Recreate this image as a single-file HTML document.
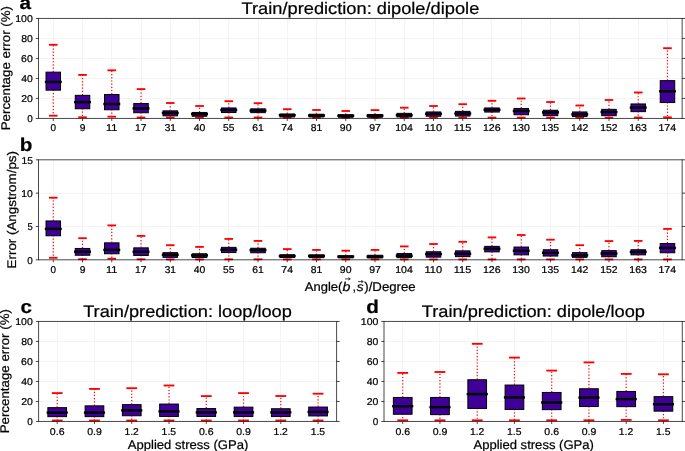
<!DOCTYPE html>
<html><head><meta charset="utf-8"><style>
html,body{margin:0;padding:0;background:#fff;}
body{width:685px;height:451px;overflow:hidden;}
svg{display:block;will-change:transform;}
text{font-family:"Liberation Sans",sans-serif;text-rendering:geometricPrecision;stroke:#000;stroke-width:0.22px;}
</style></head><body>
<svg width="685" height="451" viewBox="0 0 685 451">
<rect x="0" y="0" width="685" height="451" fill="#fff"/>
<rect x="53.00" y="18.95" width="1.00" height="99.00" fill="#f4f4f4"/>
<rect x="82.00" y="18.95" width="1.00" height="99.00" fill="#f4f4f4"/>
<rect x="111.00" y="18.95" width="1.00" height="99.00" fill="#f4f4f4"/>
<rect x="141.00" y="18.95" width="1.00" height="99.00" fill="#f4f4f4"/>
<rect x="170.00" y="18.95" width="1.00" height="99.00" fill="#f4f4f4"/>
<rect x="199.00" y="18.95" width="1.00" height="99.00" fill="#f4f4f4"/>
<rect x="228.00" y="18.95" width="1.00" height="99.00" fill="#f4f4f4"/>
<rect x="258.00" y="18.95" width="1.00" height="99.00" fill="#f4f4f4"/>
<rect x="287.00" y="18.95" width="1.00" height="99.00" fill="#f4f4f4"/>
<rect x="316.00" y="18.95" width="1.00" height="99.00" fill="#f4f4f4"/>
<rect x="345.00" y="18.95" width="1.00" height="99.00" fill="#f4f4f4"/>
<rect x="375.00" y="18.95" width="1.00" height="99.00" fill="#f4f4f4"/>
<rect x="404.00" y="18.95" width="1.00" height="99.00" fill="#f4f4f4"/>
<rect x="433.00" y="18.95" width="1.00" height="99.00" fill="#f4f4f4"/>
<rect x="462.00" y="18.95" width="1.00" height="99.00" fill="#f4f4f4"/>
<rect x="491.00" y="18.95" width="1.00" height="99.00" fill="#f4f4f4"/>
<rect x="521.00" y="18.95" width="1.00" height="99.00" fill="#f4f4f4"/>
<rect x="550.00" y="18.95" width="1.00" height="99.00" fill="#f4f4f4"/>
<rect x="579.00" y="18.95" width="1.00" height="99.00" fill="#f4f4f4"/>
<rect x="608.00" y="18.95" width="1.00" height="99.00" fill="#f4f4f4"/>
<rect x="638.00" y="18.95" width="1.00" height="99.00" fill="#f4f4f4"/>
<rect x="667.00" y="18.95" width="1.00" height="99.00" fill="#f4f4f4"/>
<rect x="39.00" y="98.00" width="642.65" height="1.00" fill="#f4f4f4"/>
<rect x="39.00" y="78.00" width="642.65" height="1.00" fill="#f4f4f4"/>
<rect x="39.00" y="58.00" width="642.65" height="1.00" fill="#f4f4f4"/>
<rect x="39.00" y="38.00" width="642.65" height="1.00" fill="#f4f4f4"/>
<line x1="53.28" y1="89.80" x2="53.28" y2="115.70" stroke="#ff0000" stroke-width="1.2" stroke-dasharray="1.2 1.98"/>
<line x1="53.28" y1="71.90" x2="53.28" y2="44.80" stroke="#ff0000" stroke-width="1.2" stroke-dasharray="1.2 1.98"/>
<line x1="48.98" y1="44.80" x2="57.58" y2="44.80" stroke="#ff0000" stroke-width="1.85"/>
<line x1="48.98" y1="115.70" x2="57.58" y2="115.70" stroke="#ff0000" stroke-width="1.85"/>
<rect x="46.03" y="72.15" width="14.50" height="18.00" fill="#3e0096" stroke="#000" stroke-width="1.0"/>
<line x1="46.03" y1="81.95" x2="60.53" y2="81.95" stroke="#000" stroke-width="2.45" stroke-linecap="square"/>
<line x1="82.52" y1="108.40" x2="82.52" y2="117.30" stroke="#ff0000" stroke-width="1.2" stroke-dasharray="1.2 1.98"/>
<line x1="82.52" y1="95.10" x2="82.52" y2="74.90" stroke="#ff0000" stroke-width="1.2" stroke-dasharray="1.2 1.98"/>
<line x1="78.22" y1="74.90" x2="86.82" y2="74.90" stroke="#ff0000" stroke-width="1.85"/>
<line x1="78.22" y1="117.30" x2="86.82" y2="117.30" stroke="#ff0000" stroke-width="1.85"/>
<rect x="75.27" y="95.35" width="14.50" height="13.40" fill="#3e0096" stroke="#000" stroke-width="1.0"/>
<line x1="75.27" y1="102.10" x2="89.77" y2="102.10" stroke="#000" stroke-width="2.45" stroke-linecap="square"/>
<line x1="111.77" y1="109.40" x2="111.77" y2="116.70" stroke="#ff0000" stroke-width="1.2" stroke-dasharray="1.2 1.98"/>
<line x1="111.77" y1="94.30" x2="111.77" y2="70.30" stroke="#ff0000" stroke-width="1.2" stroke-dasharray="1.2 1.98"/>
<line x1="107.47" y1="70.30" x2="116.07" y2="70.30" stroke="#ff0000" stroke-width="1.85"/>
<line x1="107.47" y1="116.70" x2="116.07" y2="116.70" stroke="#ff0000" stroke-width="1.85"/>
<rect x="104.52" y="94.55" width="14.50" height="15.20" fill="#3e0096" stroke="#000" stroke-width="1.0"/>
<line x1="104.52" y1="104.00" x2="119.02" y2="104.00" stroke="#000" stroke-width="2.45" stroke-linecap="square"/>
<line x1="141.02" y1="112.40" x2="141.02" y2="117.50" stroke="#ff0000" stroke-width="1.2" stroke-dasharray="1.2 1.98"/>
<line x1="141.02" y1="103.30" x2="141.02" y2="89.10" stroke="#ff0000" stroke-width="1.2" stroke-dasharray="1.2 1.98"/>
<line x1="136.72" y1="89.10" x2="145.32" y2="89.10" stroke="#ff0000" stroke-width="1.85"/>
<line x1="136.72" y1="117.50" x2="145.32" y2="117.50" stroke="#ff0000" stroke-width="1.85"/>
<rect x="133.77" y="103.55" width="14.50" height="9.20" fill="#3e0096" stroke="#000" stroke-width="1.0"/>
<line x1="133.77" y1="108.40" x2="148.27" y2="108.40" stroke="#000" stroke-width="2.45" stroke-linecap="square"/>
<line x1="170.27" y1="115.50" x2="170.27" y2="117.60" stroke="#ff0000" stroke-width="1.2" stroke-dasharray="1.2 1.98"/>
<line x1="170.27" y1="110.60" x2="170.27" y2="103.00" stroke="#ff0000" stroke-width="1.2" stroke-dasharray="1.2 1.98"/>
<line x1="165.97" y1="103.00" x2="174.57" y2="103.00" stroke="#ff0000" stroke-width="1.85"/>
<line x1="165.97" y1="117.60" x2="174.57" y2="117.60" stroke="#ff0000" stroke-width="1.85"/>
<rect x="163.02" y="110.85" width="14.50" height="5.00" fill="#3e0096" stroke="#000" stroke-width="1.0"/>
<line x1="163.02" y1="113.00" x2="177.52" y2="113.00" stroke="#000" stroke-width="2.45" stroke-linecap="square"/>
<line x1="199.51" y1="115.90" x2="199.51" y2="117.50" stroke="#ff0000" stroke-width="1.2" stroke-dasharray="1.2 1.98"/>
<line x1="199.51" y1="112.20" x2="199.51" y2="106.00" stroke="#ff0000" stroke-width="1.2" stroke-dasharray="1.2 1.98"/>
<line x1="195.21" y1="106.00" x2="203.81" y2="106.00" stroke="#ff0000" stroke-width="1.85"/>
<line x1="195.21" y1="117.50" x2="203.81" y2="117.50" stroke="#ff0000" stroke-width="1.85"/>
<rect x="192.26" y="112.45" width="14.50" height="3.80" fill="#3e0096" stroke="#000" stroke-width="1.0"/>
<line x1="192.26" y1="114.00" x2="206.76" y2="114.00" stroke="#000" stroke-width="2.45" stroke-linecap="square"/>
<line x1="228.76" y1="112.20" x2="228.76" y2="117.50" stroke="#ff0000" stroke-width="1.2" stroke-dasharray="1.2 1.98"/>
<line x1="228.76" y1="107.70" x2="228.76" y2="101.20" stroke="#ff0000" stroke-width="1.2" stroke-dasharray="1.2 1.98"/>
<line x1="224.46" y1="101.20" x2="233.06" y2="101.20" stroke="#ff0000" stroke-width="1.85"/>
<line x1="224.46" y1="117.50" x2="233.06" y2="117.50" stroke="#ff0000" stroke-width="1.85"/>
<rect x="221.51" y="107.95" width="14.50" height="4.60" fill="#3e0096" stroke="#000" stroke-width="1.0"/>
<line x1="221.51" y1="110.00" x2="236.01" y2="110.00" stroke="#000" stroke-width="2.45" stroke-linecap="square"/>
<line x1="258.01" y1="112.30" x2="258.01" y2="117.50" stroke="#ff0000" stroke-width="1.2" stroke-dasharray="1.2 1.98"/>
<line x1="258.01" y1="108.60" x2="258.01" y2="103.20" stroke="#ff0000" stroke-width="1.2" stroke-dasharray="1.2 1.98"/>
<line x1="253.71" y1="103.20" x2="262.31" y2="103.20" stroke="#ff0000" stroke-width="1.85"/>
<line x1="253.71" y1="117.50" x2="262.31" y2="117.50" stroke="#ff0000" stroke-width="1.85"/>
<rect x="250.76" y="108.85" width="14.50" height="3.80" fill="#3e0096" stroke="#000" stroke-width="1.0"/>
<line x1="250.76" y1="110.60" x2="265.26" y2="110.60" stroke="#000" stroke-width="2.45" stroke-linecap="square"/>
<line x1="287.26" y1="116.60" x2="287.26" y2="117.60" stroke="#ff0000" stroke-width="1.2" stroke-dasharray="1.2 1.98"/>
<line x1="287.26" y1="113.70" x2="287.26" y2="109.20" stroke="#ff0000" stroke-width="1.2" stroke-dasharray="1.2 1.98"/>
<line x1="282.96" y1="109.20" x2="291.56" y2="109.20" stroke="#ff0000" stroke-width="1.85"/>
<line x1="282.96" y1="117.60" x2="291.56" y2="117.60" stroke="#ff0000" stroke-width="1.85"/>
<rect x="280.01" y="113.95" width="14.50" height="3.00" fill="#3e0096" stroke="#000" stroke-width="1.0"/>
<line x1="280.01" y1="115.20" x2="294.51" y2="115.20" stroke="#000" stroke-width="2.45" stroke-linecap="square"/>
<line x1="316.51" y1="116.60" x2="316.51" y2="117.60" stroke="#ff0000" stroke-width="1.2" stroke-dasharray="1.2 1.98"/>
<line x1="316.51" y1="114.00" x2="316.51" y2="110.00" stroke="#ff0000" stroke-width="1.2" stroke-dasharray="1.2 1.98"/>
<line x1="312.21" y1="110.00" x2="320.81" y2="110.00" stroke="#ff0000" stroke-width="1.85"/>
<line x1="312.21" y1="117.60" x2="320.81" y2="117.60" stroke="#ff0000" stroke-width="1.85"/>
<rect x="309.26" y="114.25" width="14.50" height="2.70" fill="#3e0096" stroke="#000" stroke-width="1.0"/>
<line x1="309.26" y1="115.50" x2="323.76" y2="115.50" stroke="#000" stroke-width="2.45" stroke-linecap="square"/>
<line x1="345.75" y1="116.90" x2="345.75" y2="117.60" stroke="#ff0000" stroke-width="1.2" stroke-dasharray="1.2 1.98"/>
<line x1="345.75" y1="114.50" x2="345.75" y2="111.00" stroke="#ff0000" stroke-width="1.2" stroke-dasharray="1.2 1.98"/>
<line x1="341.45" y1="111.00" x2="350.05" y2="111.00" stroke="#ff0000" stroke-width="1.85"/>
<line x1="341.45" y1="117.60" x2="350.05" y2="117.60" stroke="#ff0000" stroke-width="1.85"/>
<rect x="338.50" y="114.75" width="14.50" height="2.50" fill="#3e0096" stroke="#000" stroke-width="1.0"/>
<line x1="338.50" y1="115.70" x2="353.00" y2="115.70" stroke="#000" stroke-width="2.45" stroke-linecap="square"/>
<line x1="375.00" y1="116.90" x2="375.00" y2="117.60" stroke="#ff0000" stroke-width="1.2" stroke-dasharray="1.2 1.98"/>
<line x1="375.00" y1="114.20" x2="375.00" y2="110.10" stroke="#ff0000" stroke-width="1.2" stroke-dasharray="1.2 1.98"/>
<line x1="370.70" y1="110.10" x2="379.30" y2="110.10" stroke="#ff0000" stroke-width="1.85"/>
<line x1="370.70" y1="117.60" x2="379.30" y2="117.60" stroke="#ff0000" stroke-width="1.85"/>
<rect x="367.75" y="114.45" width="14.50" height="2.80" fill="#3e0096" stroke="#000" stroke-width="1.0"/>
<line x1="367.75" y1="115.70" x2="382.25" y2="115.70" stroke="#000" stroke-width="2.45" stroke-linecap="square"/>
<line x1="404.25" y1="116.60" x2="404.25" y2="117.60" stroke="#ff0000" stroke-width="1.2" stroke-dasharray="1.2 1.98"/>
<line x1="404.25" y1="113.10" x2="404.25" y2="107.70" stroke="#ff0000" stroke-width="1.2" stroke-dasharray="1.2 1.98"/>
<line x1="399.95" y1="107.70" x2="408.55" y2="107.70" stroke="#ff0000" stroke-width="1.85"/>
<line x1="399.95" y1="117.60" x2="408.55" y2="117.60" stroke="#ff0000" stroke-width="1.85"/>
<rect x="397.00" y="113.35" width="14.50" height="3.60" fill="#3e0096" stroke="#000" stroke-width="1.0"/>
<line x1="397.00" y1="115.20" x2="411.50" y2="115.20" stroke="#000" stroke-width="2.45" stroke-linecap="square"/>
<line x1="433.50" y1="115.90" x2="433.50" y2="117.60" stroke="#ff0000" stroke-width="1.2" stroke-dasharray="1.2 1.98"/>
<line x1="433.50" y1="111.70" x2="433.50" y2="106.00" stroke="#ff0000" stroke-width="1.2" stroke-dasharray="1.2 1.98"/>
<line x1="429.20" y1="106.00" x2="437.80" y2="106.00" stroke="#ff0000" stroke-width="1.85"/>
<line x1="429.20" y1="117.60" x2="437.80" y2="117.60" stroke="#ff0000" stroke-width="1.85"/>
<rect x="426.25" y="111.95" width="14.50" height="4.30" fill="#3e0096" stroke="#000" stroke-width="1.0"/>
<line x1="426.25" y1="113.80" x2="440.75" y2="113.80" stroke="#000" stroke-width="2.45" stroke-linecap="square"/>
<line x1="462.74" y1="115.70" x2="462.74" y2="117.60" stroke="#ff0000" stroke-width="1.2" stroke-dasharray="1.2 1.98"/>
<line x1="462.74" y1="111.10" x2="462.74" y2="104.20" stroke="#ff0000" stroke-width="1.2" stroke-dasharray="1.2 1.98"/>
<line x1="458.44" y1="104.20" x2="467.04" y2="104.20" stroke="#ff0000" stroke-width="1.85"/>
<line x1="458.44" y1="117.60" x2="467.04" y2="117.60" stroke="#ff0000" stroke-width="1.85"/>
<rect x="455.49" y="111.35" width="14.50" height="4.70" fill="#3e0096" stroke="#000" stroke-width="1.0"/>
<line x1="455.49" y1="113.50" x2="469.99" y2="113.50" stroke="#000" stroke-width="2.45" stroke-linecap="square"/>
<line x1="491.99" y1="111.70" x2="491.99" y2="117.60" stroke="#ff0000" stroke-width="1.2" stroke-dasharray="1.2 1.98"/>
<line x1="491.99" y1="107.70" x2="491.99" y2="100.80" stroke="#ff0000" stroke-width="1.2" stroke-dasharray="1.2 1.98"/>
<line x1="487.69" y1="100.80" x2="496.29" y2="100.80" stroke="#ff0000" stroke-width="1.85"/>
<line x1="487.69" y1="117.60" x2="496.29" y2="117.60" stroke="#ff0000" stroke-width="1.85"/>
<rect x="484.74" y="107.95" width="14.50" height="4.10" fill="#3e0096" stroke="#000" stroke-width="1.0"/>
<line x1="484.74" y1="109.80" x2="499.24" y2="109.80" stroke="#000" stroke-width="2.45" stroke-linecap="square"/>
<line x1="521.24" y1="114.40" x2="521.24" y2="117.60" stroke="#ff0000" stroke-width="1.2" stroke-dasharray="1.2 1.98"/>
<line x1="521.24" y1="108.20" x2="521.24" y2="98.50" stroke="#ff0000" stroke-width="1.2" stroke-dasharray="1.2 1.98"/>
<line x1="516.94" y1="98.50" x2="525.54" y2="98.50" stroke="#ff0000" stroke-width="1.85"/>
<line x1="516.94" y1="117.60" x2="525.54" y2="117.60" stroke="#ff0000" stroke-width="1.85"/>
<rect x="513.99" y="108.45" width="14.50" height="6.30" fill="#3e0096" stroke="#000" stroke-width="1.0"/>
<line x1="513.99" y1="111.00" x2="528.49" y2="111.00" stroke="#000" stroke-width="2.45" stroke-linecap="square"/>
<line x1="550.49" y1="115.30" x2="550.49" y2="117.60" stroke="#ff0000" stroke-width="1.2" stroke-dasharray="1.2 1.98"/>
<line x1="550.49" y1="110.00" x2="550.49" y2="102.00" stroke="#ff0000" stroke-width="1.2" stroke-dasharray="1.2 1.98"/>
<line x1="546.19" y1="102.00" x2="554.79" y2="102.00" stroke="#ff0000" stroke-width="1.85"/>
<line x1="546.19" y1="117.60" x2="554.79" y2="117.60" stroke="#ff0000" stroke-width="1.85"/>
<rect x="543.24" y="110.25" width="14.50" height="5.40" fill="#3e0096" stroke="#000" stroke-width="1.0"/>
<line x1="543.24" y1="112.40" x2="557.74" y2="112.40" stroke="#000" stroke-width="2.45" stroke-linecap="square"/>
<line x1="579.74" y1="116.20" x2="579.74" y2="117.60" stroke="#ff0000" stroke-width="1.2" stroke-dasharray="1.2 1.98"/>
<line x1="579.74" y1="111.70" x2="579.74" y2="105.50" stroke="#ff0000" stroke-width="1.2" stroke-dasharray="1.2 1.98"/>
<line x1="575.44" y1="105.50" x2="584.04" y2="105.50" stroke="#ff0000" stroke-width="1.85"/>
<line x1="575.44" y1="117.60" x2="584.04" y2="117.60" stroke="#ff0000" stroke-width="1.85"/>
<rect x="572.49" y="111.95" width="14.50" height="4.60" fill="#3e0096" stroke="#000" stroke-width="1.0"/>
<line x1="572.49" y1="114.40" x2="586.99" y2="114.40" stroke="#000" stroke-width="2.45" stroke-linecap="square"/>
<line x1="608.98" y1="115.30" x2="608.98" y2="117.60" stroke="#ff0000" stroke-width="1.2" stroke-dasharray="1.2 1.98"/>
<line x1="608.98" y1="109.10" x2="608.98" y2="100.00" stroke="#ff0000" stroke-width="1.2" stroke-dasharray="1.2 1.98"/>
<line x1="604.68" y1="100.00" x2="613.28" y2="100.00" stroke="#ff0000" stroke-width="1.85"/>
<line x1="604.68" y1="117.60" x2="613.28" y2="117.60" stroke="#ff0000" stroke-width="1.85"/>
<rect x="601.73" y="109.35" width="14.50" height="6.30" fill="#3e0096" stroke="#000" stroke-width="1.0"/>
<line x1="601.73" y1="112.00" x2="616.23" y2="112.00" stroke="#000" stroke-width="2.45" stroke-linecap="square"/>
<line x1="638.23" y1="111.30" x2="638.23" y2="117.50" stroke="#ff0000" stroke-width="1.2" stroke-dasharray="1.2 1.98"/>
<line x1="638.23" y1="103.70" x2="638.23" y2="92.50" stroke="#ff0000" stroke-width="1.2" stroke-dasharray="1.2 1.98"/>
<line x1="633.93" y1="92.50" x2="642.53" y2="92.50" stroke="#ff0000" stroke-width="1.85"/>
<line x1="633.93" y1="117.50" x2="642.53" y2="117.50" stroke="#ff0000" stroke-width="1.85"/>
<rect x="630.98" y="103.95" width="14.50" height="7.70" fill="#3e0096" stroke="#000" stroke-width="1.0"/>
<line x1="630.98" y1="107.60" x2="645.48" y2="107.60" stroke="#000" stroke-width="2.45" stroke-linecap="square"/>
<line x1="667.48" y1="102.20" x2="667.48" y2="117.30" stroke="#ff0000" stroke-width="1.2" stroke-dasharray="1.2 1.98"/>
<line x1="667.48" y1="80.40" x2="667.48" y2="48.20" stroke="#ff0000" stroke-width="1.2" stroke-dasharray="1.2 1.98"/>
<line x1="663.18" y1="48.20" x2="671.78" y2="48.20" stroke="#ff0000" stroke-width="1.85"/>
<line x1="663.18" y1="117.30" x2="671.78" y2="117.30" stroke="#ff0000" stroke-width="1.85"/>
<rect x="660.23" y="80.65" width="14.50" height="21.90" fill="#3e0096" stroke="#000" stroke-width="1.0"/>
<line x1="660.23" y1="91.30" x2="674.73" y2="91.30" stroke="#000" stroke-width="2.45" stroke-linecap="square"/>
<line x1="38.50" y1="18.45" x2="682.15" y2="18.45" stroke="#000" stroke-width="0.72"/>
<line x1="38.50" y1="118.45" x2="682.15" y2="118.45" stroke="#000" stroke-width="0.72"/>
<line x1="38.50" y1="18.09" x2="38.50" y2="118.81" stroke="#000" stroke-width="0.72"/>
<line x1="682.15" y1="18.09" x2="682.15" y2="118.81" stroke="#000" stroke-width="0.72"/>
<line x1="35.80" y1="118.45" x2="38.50" y2="118.45" stroke="#000" stroke-width="0.72"/>
<line x1="682.15" y1="118.45" x2="685.25" y2="118.45" stroke="#000" stroke-width="0.72"/>
<line x1="35.80" y1="98.45" x2="38.50" y2="98.45" stroke="#000" stroke-width="0.72"/>
<line x1="682.15" y1="98.45" x2="685.25" y2="98.45" stroke="#000" stroke-width="0.72"/>
<line x1="35.80" y1="78.45" x2="38.50" y2="78.45" stroke="#000" stroke-width="0.72"/>
<line x1="682.15" y1="78.45" x2="685.25" y2="78.45" stroke="#000" stroke-width="0.72"/>
<line x1="35.80" y1="58.45" x2="38.50" y2="58.45" stroke="#000" stroke-width="0.72"/>
<line x1="682.15" y1="58.45" x2="685.25" y2="58.45" stroke="#000" stroke-width="0.72"/>
<line x1="35.80" y1="38.45" x2="38.50" y2="38.45" stroke="#000" stroke-width="0.72"/>
<line x1="682.15" y1="38.45" x2="685.25" y2="38.45" stroke="#000" stroke-width="0.72"/>
<line x1="35.80" y1="18.45" x2="38.50" y2="18.45" stroke="#000" stroke-width="0.72"/>
<line x1="682.15" y1="18.45" x2="685.25" y2="18.45" stroke="#000" stroke-width="0.72"/>
<line x1="53.28" y1="118.45" x2="53.28" y2="120.95" stroke="#000" stroke-width="0.72"/>
<line x1="82.52" y1="118.45" x2="82.52" y2="120.95" stroke="#000" stroke-width="0.72"/>
<line x1="111.77" y1="118.45" x2="111.77" y2="120.95" stroke="#000" stroke-width="0.72"/>
<line x1="141.02" y1="118.45" x2="141.02" y2="120.95" stroke="#000" stroke-width="0.72"/>
<line x1="170.27" y1="118.45" x2="170.27" y2="120.95" stroke="#000" stroke-width="0.72"/>
<line x1="199.51" y1="118.45" x2="199.51" y2="120.95" stroke="#000" stroke-width="0.72"/>
<line x1="228.76" y1="118.45" x2="228.76" y2="120.95" stroke="#000" stroke-width="0.72"/>
<line x1="258.01" y1="118.45" x2="258.01" y2="120.95" stroke="#000" stroke-width="0.72"/>
<line x1="287.26" y1="118.45" x2="287.26" y2="120.95" stroke="#000" stroke-width="0.72"/>
<line x1="316.51" y1="118.45" x2="316.51" y2="120.95" stroke="#000" stroke-width="0.72"/>
<line x1="345.75" y1="118.45" x2="345.75" y2="120.95" stroke="#000" stroke-width="0.72"/>
<line x1="375.00" y1="118.45" x2="375.00" y2="120.95" stroke="#000" stroke-width="0.72"/>
<line x1="404.25" y1="118.45" x2="404.25" y2="120.95" stroke="#000" stroke-width="0.72"/>
<line x1="433.50" y1="118.45" x2="433.50" y2="120.95" stroke="#000" stroke-width="0.72"/>
<line x1="462.74" y1="118.45" x2="462.74" y2="120.95" stroke="#000" stroke-width="0.72"/>
<line x1="491.99" y1="118.45" x2="491.99" y2="120.95" stroke="#000" stroke-width="0.72"/>
<line x1="521.24" y1="118.45" x2="521.24" y2="120.95" stroke="#000" stroke-width="0.72"/>
<line x1="550.49" y1="118.45" x2="550.49" y2="120.95" stroke="#000" stroke-width="0.72"/>
<line x1="579.74" y1="118.45" x2="579.74" y2="120.95" stroke="#000" stroke-width="0.72"/>
<line x1="608.98" y1="118.45" x2="608.98" y2="120.95" stroke="#000" stroke-width="0.72"/>
<line x1="638.23" y1="118.45" x2="638.23" y2="120.95" stroke="#000" stroke-width="0.72"/>
<line x1="667.48" y1="118.45" x2="667.48" y2="120.95" stroke="#000" stroke-width="0.72"/>
<rect x="53.00" y="160.30" width="1.00" height="99.00" fill="#f4f4f4"/>
<rect x="82.00" y="160.30" width="1.00" height="99.00" fill="#f4f4f4"/>
<rect x="111.00" y="160.30" width="1.00" height="99.00" fill="#f4f4f4"/>
<rect x="141.00" y="160.30" width="1.00" height="99.00" fill="#f4f4f4"/>
<rect x="170.00" y="160.30" width="1.00" height="99.00" fill="#f4f4f4"/>
<rect x="199.00" y="160.30" width="1.00" height="99.00" fill="#f4f4f4"/>
<rect x="228.00" y="160.30" width="1.00" height="99.00" fill="#f4f4f4"/>
<rect x="258.00" y="160.30" width="1.00" height="99.00" fill="#f4f4f4"/>
<rect x="287.00" y="160.30" width="1.00" height="99.00" fill="#f4f4f4"/>
<rect x="316.00" y="160.30" width="1.00" height="99.00" fill="#f4f4f4"/>
<rect x="345.00" y="160.30" width="1.00" height="99.00" fill="#f4f4f4"/>
<rect x="375.00" y="160.30" width="1.00" height="99.00" fill="#f4f4f4"/>
<rect x="404.00" y="160.30" width="1.00" height="99.00" fill="#f4f4f4"/>
<rect x="433.00" y="160.30" width="1.00" height="99.00" fill="#f4f4f4"/>
<rect x="462.00" y="160.30" width="1.00" height="99.00" fill="#f4f4f4"/>
<rect x="491.00" y="160.30" width="1.00" height="99.00" fill="#f4f4f4"/>
<rect x="521.00" y="160.30" width="1.00" height="99.00" fill="#f4f4f4"/>
<rect x="550.00" y="160.30" width="1.00" height="99.00" fill="#f4f4f4"/>
<rect x="579.00" y="160.30" width="1.00" height="99.00" fill="#f4f4f4"/>
<rect x="608.00" y="160.30" width="1.00" height="99.00" fill="#f4f4f4"/>
<rect x="638.00" y="160.30" width="1.00" height="99.00" fill="#f4f4f4"/>
<rect x="667.00" y="160.30" width="1.00" height="99.00" fill="#f4f4f4"/>
<rect x="39.00" y="226.00" width="642.65" height="1.00" fill="#f4f4f4"/>
<rect x="39.00" y="193.00" width="642.65" height="1.00" fill="#f4f4f4"/>
<line x1="53.28" y1="235.40" x2="53.28" y2="257.80" stroke="#ff0000" stroke-width="1.2" stroke-dasharray="1.2 1.98"/>
<line x1="53.28" y1="220.70" x2="53.28" y2="197.70" stroke="#ff0000" stroke-width="1.2" stroke-dasharray="1.2 1.98"/>
<line x1="48.98" y1="197.70" x2="57.58" y2="197.70" stroke="#ff0000" stroke-width="1.85"/>
<line x1="48.98" y1="257.80" x2="57.58" y2="257.80" stroke="#ff0000" stroke-width="1.85"/>
<rect x="46.03" y="220.95" width="14.50" height="14.80" fill="#3e0096" stroke="#000" stroke-width="1.0"/>
<line x1="46.03" y1="228.90" x2="60.53" y2="228.90" stroke="#000" stroke-width="2.45" stroke-linecap="square"/>
<line x1="82.52" y1="254.90" x2="82.52" y2="259.20" stroke="#ff0000" stroke-width="1.2" stroke-dasharray="1.2 1.98"/>
<line x1="82.52" y1="248.20" x2="82.52" y2="238.20" stroke="#ff0000" stroke-width="1.2" stroke-dasharray="1.2 1.98"/>
<line x1="78.22" y1="238.20" x2="86.82" y2="238.20" stroke="#ff0000" stroke-width="1.85"/>
<line x1="78.22" y1="259.20" x2="86.82" y2="259.20" stroke="#ff0000" stroke-width="1.85"/>
<rect x="75.27" y="248.45" width="14.50" height="6.80" fill="#3e0096" stroke="#000" stroke-width="1.0"/>
<line x1="75.27" y1="251.70" x2="89.77" y2="251.70" stroke="#000" stroke-width="2.45" stroke-linecap="square"/>
<line x1="111.77" y1="253.40" x2="111.77" y2="258.70" stroke="#ff0000" stroke-width="1.2" stroke-dasharray="1.2 1.98"/>
<line x1="111.77" y1="242.60" x2="111.77" y2="225.40" stroke="#ff0000" stroke-width="1.2" stroke-dasharray="1.2 1.98"/>
<line x1="107.47" y1="225.40" x2="116.07" y2="225.40" stroke="#ff0000" stroke-width="1.85"/>
<line x1="107.47" y1="258.70" x2="116.07" y2="258.70" stroke="#ff0000" stroke-width="1.85"/>
<rect x="104.52" y="242.85" width="14.50" height="10.90" fill="#3e0096" stroke="#000" stroke-width="1.0"/>
<line x1="104.52" y1="249.90" x2="119.02" y2="249.90" stroke="#000" stroke-width="2.45" stroke-linecap="square"/>
<line x1="141.02" y1="255.10" x2="141.02" y2="259.30" stroke="#ff0000" stroke-width="1.2" stroke-dasharray="1.2 1.98"/>
<line x1="141.02" y1="247.60" x2="141.02" y2="235.90" stroke="#ff0000" stroke-width="1.2" stroke-dasharray="1.2 1.98"/>
<line x1="136.72" y1="235.90" x2="145.32" y2="235.90" stroke="#ff0000" stroke-width="1.85"/>
<line x1="136.72" y1="259.30" x2="145.32" y2="259.30" stroke="#ff0000" stroke-width="1.85"/>
<rect x="133.77" y="247.85" width="14.50" height="7.60" fill="#3e0096" stroke="#000" stroke-width="1.0"/>
<line x1="133.77" y1="251.80" x2="148.27" y2="251.80" stroke="#000" stroke-width="2.45" stroke-linecap="square"/>
<line x1="170.27" y1="257.00" x2="170.27" y2="259.40" stroke="#ff0000" stroke-width="1.2" stroke-dasharray="1.2 1.98"/>
<line x1="170.27" y1="252.40" x2="170.27" y2="245.20" stroke="#ff0000" stroke-width="1.2" stroke-dasharray="1.2 1.98"/>
<line x1="165.97" y1="245.20" x2="174.57" y2="245.20" stroke="#ff0000" stroke-width="1.85"/>
<line x1="165.97" y1="259.40" x2="174.57" y2="259.40" stroke="#ff0000" stroke-width="1.85"/>
<rect x="163.02" y="252.65" width="14.50" height="4.70" fill="#3e0096" stroke="#000" stroke-width="1.0"/>
<line x1="163.02" y1="254.80" x2="177.52" y2="254.80" stroke="#000" stroke-width="2.45" stroke-linecap="square"/>
<line x1="199.51" y1="257.20" x2="199.51" y2="259.40" stroke="#ff0000" stroke-width="1.2" stroke-dasharray="1.2 1.98"/>
<line x1="199.51" y1="253.50" x2="199.51" y2="246.90" stroke="#ff0000" stroke-width="1.2" stroke-dasharray="1.2 1.98"/>
<line x1="195.21" y1="246.90" x2="203.81" y2="246.90" stroke="#ff0000" stroke-width="1.85"/>
<line x1="195.21" y1="259.40" x2="203.81" y2="259.40" stroke="#ff0000" stroke-width="1.85"/>
<rect x="192.26" y="253.75" width="14.50" height="3.80" fill="#3e0096" stroke="#000" stroke-width="1.0"/>
<line x1="192.26" y1="255.40" x2="206.76" y2="255.40" stroke="#000" stroke-width="2.45" stroke-linecap="square"/>
<line x1="228.76" y1="252.20" x2="228.76" y2="259.30" stroke="#ff0000" stroke-width="1.2" stroke-dasharray="1.2 1.98"/>
<line x1="228.76" y1="247.10" x2="228.76" y2="238.90" stroke="#ff0000" stroke-width="1.2" stroke-dasharray="1.2 1.98"/>
<line x1="224.46" y1="238.90" x2="233.06" y2="238.90" stroke="#ff0000" stroke-width="1.85"/>
<line x1="224.46" y1="259.30" x2="233.06" y2="259.30" stroke="#ff0000" stroke-width="1.85"/>
<rect x="221.51" y="247.35" width="14.50" height="5.20" fill="#3e0096" stroke="#000" stroke-width="1.0"/>
<line x1="221.51" y1="249.80" x2="236.01" y2="249.80" stroke="#000" stroke-width="2.45" stroke-linecap="square"/>
<line x1="258.01" y1="252.40" x2="258.01" y2="259.30" stroke="#ff0000" stroke-width="1.2" stroke-dasharray="1.2 1.98"/>
<line x1="258.01" y1="248.00" x2="258.01" y2="240.90" stroke="#ff0000" stroke-width="1.2" stroke-dasharray="1.2 1.98"/>
<line x1="253.71" y1="240.90" x2="262.31" y2="240.90" stroke="#ff0000" stroke-width="1.85"/>
<line x1="253.71" y1="259.30" x2="262.31" y2="259.30" stroke="#ff0000" stroke-width="1.85"/>
<rect x="250.76" y="248.25" width="14.50" height="4.50" fill="#3e0096" stroke="#000" stroke-width="1.0"/>
<line x1="250.76" y1="250.10" x2="265.26" y2="250.10" stroke="#000" stroke-width="2.45" stroke-linecap="square"/>
<line x1="287.26" y1="257.20" x2="287.26" y2="259.40" stroke="#ff0000" stroke-width="1.2" stroke-dasharray="1.2 1.98"/>
<line x1="287.26" y1="254.50" x2="287.26" y2="249.10" stroke="#ff0000" stroke-width="1.2" stroke-dasharray="1.2 1.98"/>
<line x1="282.96" y1="249.10" x2="291.56" y2="249.10" stroke="#ff0000" stroke-width="1.85"/>
<line x1="282.96" y1="259.40" x2="291.56" y2="259.40" stroke="#ff0000" stroke-width="1.85"/>
<rect x="280.01" y="254.75" width="14.50" height="2.80" fill="#3e0096" stroke="#000" stroke-width="1.0"/>
<line x1="280.01" y1="256.00" x2="294.51" y2="256.00" stroke="#000" stroke-width="2.45" stroke-linecap="square"/>
<line x1="316.51" y1="257.30" x2="316.51" y2="259.40" stroke="#ff0000" stroke-width="1.2" stroke-dasharray="1.2 1.98"/>
<line x1="316.51" y1="254.60" x2="316.51" y2="249.90" stroke="#ff0000" stroke-width="1.2" stroke-dasharray="1.2 1.98"/>
<line x1="312.21" y1="249.90" x2="320.81" y2="249.90" stroke="#ff0000" stroke-width="1.85"/>
<line x1="312.21" y1="259.40" x2="320.81" y2="259.40" stroke="#ff0000" stroke-width="1.85"/>
<rect x="309.26" y="254.85" width="14.50" height="2.80" fill="#3e0096" stroke="#000" stroke-width="1.0"/>
<line x1="309.26" y1="256.00" x2="323.76" y2="256.00" stroke="#000" stroke-width="2.45" stroke-linecap="square"/>
<line x1="345.75" y1="257.50" x2="345.75" y2="259.40" stroke="#ff0000" stroke-width="1.2" stroke-dasharray="1.2 1.98"/>
<line x1="345.75" y1="255.50" x2="345.75" y2="250.70" stroke="#ff0000" stroke-width="1.2" stroke-dasharray="1.2 1.98"/>
<line x1="341.45" y1="250.70" x2="350.05" y2="250.70" stroke="#ff0000" stroke-width="1.85"/>
<line x1="341.45" y1="259.40" x2="350.05" y2="259.40" stroke="#ff0000" stroke-width="1.85"/>
<rect x="338.50" y="255.75" width="14.50" height="2.10" fill="#3e0096" stroke="#000" stroke-width="1.0"/>
<line x1="338.50" y1="256.60" x2="353.00" y2="256.60" stroke="#000" stroke-width="2.45" stroke-linecap="square"/>
<line x1="375.00" y1="257.60" x2="375.00" y2="259.40" stroke="#ff0000" stroke-width="1.2" stroke-dasharray="1.2 1.98"/>
<line x1="375.00" y1="255.00" x2="375.00" y2="249.90" stroke="#ff0000" stroke-width="1.2" stroke-dasharray="1.2 1.98"/>
<line x1="370.70" y1="249.90" x2="379.30" y2="249.90" stroke="#ff0000" stroke-width="1.85"/>
<line x1="370.70" y1="259.40" x2="379.30" y2="259.40" stroke="#ff0000" stroke-width="1.85"/>
<rect x="367.75" y="255.25" width="14.50" height="2.70" fill="#3e0096" stroke="#000" stroke-width="1.0"/>
<line x1="367.75" y1="256.60" x2="382.25" y2="256.60" stroke="#000" stroke-width="2.45" stroke-linecap="square"/>
<line x1="404.25" y1="257.30" x2="404.25" y2="259.40" stroke="#ff0000" stroke-width="1.2" stroke-dasharray="1.2 1.98"/>
<line x1="404.25" y1="253.30" x2="404.25" y2="246.40" stroke="#ff0000" stroke-width="1.2" stroke-dasharray="1.2 1.98"/>
<line x1="399.95" y1="246.40" x2="408.55" y2="246.40" stroke="#ff0000" stroke-width="1.85"/>
<line x1="399.95" y1="259.40" x2="408.55" y2="259.40" stroke="#ff0000" stroke-width="1.85"/>
<rect x="397.00" y="253.55" width="14.50" height="4.10" fill="#3e0096" stroke="#000" stroke-width="1.0"/>
<line x1="397.00" y1="255.70" x2="411.50" y2="255.70" stroke="#000" stroke-width="2.45" stroke-linecap="square"/>
<line x1="433.50" y1="256.80" x2="433.50" y2="259.40" stroke="#ff0000" stroke-width="1.2" stroke-dasharray="1.2 1.98"/>
<line x1="433.50" y1="251.50" x2="433.50" y2="244.00" stroke="#ff0000" stroke-width="1.2" stroke-dasharray="1.2 1.98"/>
<line x1="429.20" y1="244.00" x2="437.80" y2="244.00" stroke="#ff0000" stroke-width="1.85"/>
<line x1="429.20" y1="259.40" x2="437.80" y2="259.40" stroke="#ff0000" stroke-width="1.85"/>
<rect x="426.25" y="251.75" width="14.50" height="5.40" fill="#3e0096" stroke="#000" stroke-width="1.0"/>
<line x1="426.25" y1="254.10" x2="440.75" y2="254.10" stroke="#000" stroke-width="2.45" stroke-linecap="square"/>
<line x1="462.74" y1="256.30" x2="462.74" y2="259.40" stroke="#ff0000" stroke-width="1.2" stroke-dasharray="1.2 1.98"/>
<line x1="462.74" y1="250.60" x2="462.74" y2="241.80" stroke="#ff0000" stroke-width="1.2" stroke-dasharray="1.2 1.98"/>
<line x1="458.44" y1="241.80" x2="467.04" y2="241.80" stroke="#ff0000" stroke-width="1.85"/>
<line x1="458.44" y1="259.40" x2="467.04" y2="259.40" stroke="#ff0000" stroke-width="1.85"/>
<rect x="455.49" y="250.85" width="14.50" height="5.80" fill="#3e0096" stroke="#000" stroke-width="1.0"/>
<line x1="455.49" y1="253.70" x2="469.99" y2="253.70" stroke="#000" stroke-width="2.45" stroke-linecap="square"/>
<line x1="491.99" y1="251.50" x2="491.99" y2="259.40" stroke="#ff0000" stroke-width="1.2" stroke-dasharray="1.2 1.98"/>
<line x1="491.99" y1="246.10" x2="491.99" y2="237.40" stroke="#ff0000" stroke-width="1.2" stroke-dasharray="1.2 1.98"/>
<line x1="487.69" y1="237.40" x2="496.29" y2="237.40" stroke="#ff0000" stroke-width="1.85"/>
<line x1="487.69" y1="259.40" x2="496.29" y2="259.40" stroke="#ff0000" stroke-width="1.85"/>
<rect x="484.74" y="246.35" width="14.50" height="5.50" fill="#3e0096" stroke="#000" stroke-width="1.0"/>
<line x1="484.74" y1="248.80" x2="499.24" y2="248.80" stroke="#000" stroke-width="2.45" stroke-linecap="square"/>
<line x1="521.24" y1="254.50" x2="521.24" y2="259.40" stroke="#ff0000" stroke-width="1.2" stroke-dasharray="1.2 1.98"/>
<line x1="521.24" y1="246.80" x2="521.24" y2="235.00" stroke="#ff0000" stroke-width="1.2" stroke-dasharray="1.2 1.98"/>
<line x1="516.94" y1="235.00" x2="525.54" y2="235.00" stroke="#ff0000" stroke-width="1.85"/>
<line x1="516.94" y1="259.40" x2="525.54" y2="259.40" stroke="#ff0000" stroke-width="1.85"/>
<rect x="513.99" y="247.05" width="14.50" height="7.80" fill="#3e0096" stroke="#000" stroke-width="1.0"/>
<line x1="513.99" y1="250.80" x2="528.49" y2="250.80" stroke="#000" stroke-width="2.45" stroke-linecap="square"/>
<line x1="550.49" y1="255.70" x2="550.49" y2="259.40" stroke="#ff0000" stroke-width="1.2" stroke-dasharray="1.2 1.98"/>
<line x1="550.49" y1="249.50" x2="550.49" y2="239.70" stroke="#ff0000" stroke-width="1.2" stroke-dasharray="1.2 1.98"/>
<line x1="546.19" y1="239.70" x2="554.79" y2="239.70" stroke="#ff0000" stroke-width="1.85"/>
<line x1="546.19" y1="259.40" x2="554.79" y2="259.40" stroke="#ff0000" stroke-width="1.85"/>
<rect x="543.24" y="249.75" width="14.50" height="6.30" fill="#3e0096" stroke="#000" stroke-width="1.0"/>
<line x1="543.24" y1="252.80" x2="557.74" y2="252.80" stroke="#000" stroke-width="2.45" stroke-linecap="square"/>
<line x1="579.74" y1="257.00" x2="579.74" y2="259.40" stroke="#ff0000" stroke-width="1.2" stroke-dasharray="1.2 1.98"/>
<line x1="579.74" y1="252.40" x2="579.74" y2="245.20" stroke="#ff0000" stroke-width="1.2" stroke-dasharray="1.2 1.98"/>
<line x1="575.44" y1="245.20" x2="584.04" y2="245.20" stroke="#ff0000" stroke-width="1.85"/>
<line x1="575.44" y1="259.40" x2="584.04" y2="259.40" stroke="#ff0000" stroke-width="1.85"/>
<rect x="572.49" y="252.65" width="14.50" height="4.70" fill="#3e0096" stroke="#000" stroke-width="1.0"/>
<line x1="572.49" y1="255.30" x2="586.99" y2="255.30" stroke="#000" stroke-width="2.45" stroke-linecap="square"/>
<line x1="608.98" y1="256.40" x2="608.98" y2="259.40" stroke="#ff0000" stroke-width="1.2" stroke-dasharray="1.2 1.98"/>
<line x1="608.98" y1="250.40" x2="608.98" y2="241.10" stroke="#ff0000" stroke-width="1.2" stroke-dasharray="1.2 1.98"/>
<line x1="604.68" y1="241.10" x2="613.28" y2="241.10" stroke="#ff0000" stroke-width="1.85"/>
<line x1="604.68" y1="259.40" x2="613.28" y2="259.40" stroke="#ff0000" stroke-width="1.85"/>
<rect x="601.73" y="250.65" width="14.50" height="6.10" fill="#3e0096" stroke="#000" stroke-width="1.0"/>
<line x1="601.73" y1="253.50" x2="616.23" y2="253.50" stroke="#000" stroke-width="2.45" stroke-linecap="square"/>
<line x1="638.23" y1="254.50" x2="638.23" y2="259.40" stroke="#ff0000" stroke-width="1.2" stroke-dasharray="1.2 1.98"/>
<line x1="638.23" y1="249.50" x2="638.23" y2="240.90" stroke="#ff0000" stroke-width="1.2" stroke-dasharray="1.2 1.98"/>
<line x1="633.93" y1="240.90" x2="642.53" y2="240.90" stroke="#ff0000" stroke-width="1.85"/>
<line x1="633.93" y1="259.40" x2="642.53" y2="259.40" stroke="#ff0000" stroke-width="1.85"/>
<rect x="630.98" y="249.75" width="14.50" height="5.10" fill="#3e0096" stroke="#000" stroke-width="1.0"/>
<line x1="630.98" y1="251.90" x2="645.48" y2="251.90" stroke="#000" stroke-width="2.45" stroke-linecap="square"/>
<line x1="667.48" y1="252.40" x2="667.48" y2="259.40" stroke="#ff0000" stroke-width="1.2" stroke-dasharray="1.2 1.98"/>
<line x1="667.48" y1="243.30" x2="667.48" y2="228.90" stroke="#ff0000" stroke-width="1.2" stroke-dasharray="1.2 1.98"/>
<line x1="663.18" y1="228.90" x2="671.78" y2="228.90" stroke="#ff0000" stroke-width="1.85"/>
<line x1="663.18" y1="259.40" x2="671.78" y2="259.40" stroke="#ff0000" stroke-width="1.85"/>
<rect x="660.23" y="243.55" width="14.50" height="9.20" fill="#3e0096" stroke="#000" stroke-width="1.0"/>
<line x1="660.23" y1="247.90" x2="674.73" y2="247.90" stroke="#000" stroke-width="2.45" stroke-linecap="square"/>
<line x1="38.50" y1="159.80" x2="682.15" y2="159.80" stroke="#000" stroke-width="0.72"/>
<line x1="38.50" y1="259.80" x2="682.15" y2="259.80" stroke="#000" stroke-width="0.72"/>
<line x1="38.50" y1="159.44" x2="38.50" y2="260.16" stroke="#000" stroke-width="0.72"/>
<line x1="682.15" y1="159.44" x2="682.15" y2="260.16" stroke="#000" stroke-width="0.72"/>
<line x1="35.80" y1="259.80" x2="38.50" y2="259.80" stroke="#000" stroke-width="0.72"/>
<line x1="682.15" y1="259.80" x2="685.25" y2="259.80" stroke="#000" stroke-width="0.72"/>
<line x1="35.80" y1="226.47" x2="38.50" y2="226.47" stroke="#000" stroke-width="0.72"/>
<line x1="682.15" y1="226.47" x2="685.25" y2="226.47" stroke="#000" stroke-width="0.72"/>
<line x1="35.80" y1="193.13" x2="38.50" y2="193.13" stroke="#000" stroke-width="0.72"/>
<line x1="682.15" y1="193.13" x2="685.25" y2="193.13" stroke="#000" stroke-width="0.72"/>
<line x1="35.80" y1="159.80" x2="38.50" y2="159.80" stroke="#000" stroke-width="0.72"/>
<line x1="682.15" y1="159.80" x2="685.25" y2="159.80" stroke="#000" stroke-width="0.72"/>
<line x1="53.28" y1="259.80" x2="53.28" y2="262.30" stroke="#000" stroke-width="0.72"/>
<line x1="82.52" y1="259.80" x2="82.52" y2="262.30" stroke="#000" stroke-width="0.72"/>
<line x1="111.77" y1="259.80" x2="111.77" y2="262.30" stroke="#000" stroke-width="0.72"/>
<line x1="141.02" y1="259.80" x2="141.02" y2="262.30" stroke="#000" stroke-width="0.72"/>
<line x1="170.27" y1="259.80" x2="170.27" y2="262.30" stroke="#000" stroke-width="0.72"/>
<line x1="199.51" y1="259.80" x2="199.51" y2="262.30" stroke="#000" stroke-width="0.72"/>
<line x1="228.76" y1="259.80" x2="228.76" y2="262.30" stroke="#000" stroke-width="0.72"/>
<line x1="258.01" y1="259.80" x2="258.01" y2="262.30" stroke="#000" stroke-width="0.72"/>
<line x1="287.26" y1="259.80" x2="287.26" y2="262.30" stroke="#000" stroke-width="0.72"/>
<line x1="316.51" y1="259.80" x2="316.51" y2="262.30" stroke="#000" stroke-width="0.72"/>
<line x1="345.75" y1="259.80" x2="345.75" y2="262.30" stroke="#000" stroke-width="0.72"/>
<line x1="375.00" y1="259.80" x2="375.00" y2="262.30" stroke="#000" stroke-width="0.72"/>
<line x1="404.25" y1="259.80" x2="404.25" y2="262.30" stroke="#000" stroke-width="0.72"/>
<line x1="433.50" y1="259.80" x2="433.50" y2="262.30" stroke="#000" stroke-width="0.72"/>
<line x1="462.74" y1="259.80" x2="462.74" y2="262.30" stroke="#000" stroke-width="0.72"/>
<line x1="491.99" y1="259.80" x2="491.99" y2="262.30" stroke="#000" stroke-width="0.72"/>
<line x1="521.24" y1="259.80" x2="521.24" y2="262.30" stroke="#000" stroke-width="0.72"/>
<line x1="550.49" y1="259.80" x2="550.49" y2="262.30" stroke="#000" stroke-width="0.72"/>
<line x1="579.74" y1="259.80" x2="579.74" y2="262.30" stroke="#000" stroke-width="0.72"/>
<line x1="608.98" y1="259.80" x2="608.98" y2="262.30" stroke="#000" stroke-width="0.72"/>
<line x1="638.23" y1="259.80" x2="638.23" y2="262.30" stroke="#000" stroke-width="0.72"/>
<line x1="667.48" y1="259.80" x2="667.48" y2="262.30" stroke="#000" stroke-width="0.72"/>
<rect x="57.00" y="321.95" width="1.00" height="99.00" fill="#f4f4f4"/>
<rect x="94.00" y="321.95" width="1.00" height="99.00" fill="#f4f4f4"/>
<rect x="131.00" y="321.95" width="1.00" height="99.00" fill="#f4f4f4"/>
<rect x="169.00" y="321.95" width="1.00" height="99.00" fill="#f4f4f4"/>
<rect x="206.00" y="321.95" width="1.00" height="99.00" fill="#f4f4f4"/>
<rect x="243.00" y="321.95" width="1.00" height="99.00" fill="#f4f4f4"/>
<rect x="280.00" y="321.95" width="1.00" height="99.00" fill="#f4f4f4"/>
<rect x="318.00" y="321.95" width="1.00" height="99.00" fill="#f4f4f4"/>
<rect x="39.10" y="401.00" width="297.00" height="1.00" fill="#f4f4f4"/>
<rect x="39.10" y="381.00" width="297.00" height="1.00" fill="#f4f4f4"/>
<rect x="39.10" y="361.00" width="297.00" height="1.00" fill="#f4f4f4"/>
<rect x="39.10" y="341.00" width="297.00" height="1.00" fill="#f4f4f4"/>
<line x1="57.21" y1="416.30" x2="57.21" y2="420.50" stroke="#ff0000" stroke-width="1.2" stroke-dasharray="1.2 1.98"/>
<line x1="57.21" y1="407.40" x2="57.21" y2="393.10" stroke="#ff0000" stroke-width="1.2" stroke-dasharray="1.2 1.98"/>
<line x1="51.81" y1="393.10" x2="62.61" y2="393.10" stroke="#ff0000" stroke-width="1.85"/>
<line x1="51.81" y1="420.50" x2="62.61" y2="420.50" stroke="#ff0000" stroke-width="1.85"/>
<rect x="47.86" y="407.65" width="18.70" height="9.00" fill="#3e0096" stroke="#000" stroke-width="1.0"/>
<line x1="47.86" y1="412.60" x2="66.56" y2="412.60" stroke="#000" stroke-width="2.45" stroke-linecap="square"/>
<line x1="94.47" y1="416.30" x2="94.47" y2="420.50" stroke="#ff0000" stroke-width="1.2" stroke-dasharray="1.2 1.98"/>
<line x1="94.47" y1="405.60" x2="94.47" y2="388.90" stroke="#ff0000" stroke-width="1.2" stroke-dasharray="1.2 1.98"/>
<line x1="89.07" y1="388.90" x2="99.87" y2="388.90" stroke="#ff0000" stroke-width="1.85"/>
<line x1="89.07" y1="420.50" x2="99.87" y2="420.50" stroke="#ff0000" stroke-width="1.85"/>
<rect x="85.12" y="405.85" width="18.70" height="10.80" fill="#3e0096" stroke="#000" stroke-width="1.0"/>
<line x1="85.12" y1="412.60" x2="103.82" y2="412.60" stroke="#000" stroke-width="2.45" stroke-linecap="square"/>
<line x1="131.74" y1="415.40" x2="131.74" y2="420.50" stroke="#ff0000" stroke-width="1.2" stroke-dasharray="1.2 1.98"/>
<line x1="131.74" y1="404.40" x2="131.74" y2="388.20" stroke="#ff0000" stroke-width="1.2" stroke-dasharray="1.2 1.98"/>
<line x1="126.34" y1="388.20" x2="137.14" y2="388.20" stroke="#ff0000" stroke-width="1.85"/>
<line x1="126.34" y1="420.50" x2="137.14" y2="420.50" stroke="#ff0000" stroke-width="1.85"/>
<rect x="122.39" y="404.65" width="18.70" height="11.10" fill="#3e0096" stroke="#000" stroke-width="1.0"/>
<line x1="122.39" y1="410.40" x2="141.09" y2="410.40" stroke="#000" stroke-width="2.45" stroke-linecap="square"/>
<line x1="169.00" y1="416.10" x2="169.00" y2="420.50" stroke="#ff0000" stroke-width="1.2" stroke-dasharray="1.2 1.98"/>
<line x1="169.00" y1="403.80" x2="169.00" y2="385.50" stroke="#ff0000" stroke-width="1.2" stroke-dasharray="1.2 1.98"/>
<line x1="163.60" y1="385.50" x2="174.40" y2="385.50" stroke="#ff0000" stroke-width="1.85"/>
<line x1="163.60" y1="420.50" x2="174.40" y2="420.50" stroke="#ff0000" stroke-width="1.85"/>
<rect x="159.65" y="404.05" width="18.70" height="12.40" fill="#3e0096" stroke="#000" stroke-width="1.0"/>
<line x1="159.65" y1="411.40" x2="178.35" y2="411.40" stroke="#000" stroke-width="2.45" stroke-linecap="square"/>
<line x1="206.27" y1="416.10" x2="206.27" y2="420.50" stroke="#ff0000" stroke-width="1.2" stroke-dasharray="1.2 1.98"/>
<line x1="206.27" y1="408.30" x2="206.27" y2="396.10" stroke="#ff0000" stroke-width="1.2" stroke-dasharray="1.2 1.98"/>
<line x1="200.87" y1="396.10" x2="211.67" y2="396.10" stroke="#ff0000" stroke-width="1.85"/>
<line x1="200.87" y1="420.50" x2="211.67" y2="420.50" stroke="#ff0000" stroke-width="1.85"/>
<rect x="196.92" y="408.55" width="18.70" height="7.90" fill="#3e0096" stroke="#000" stroke-width="1.0"/>
<line x1="196.92" y1="412.40" x2="215.62" y2="412.40" stroke="#000" stroke-width="2.45" stroke-linecap="square"/>
<line x1="243.54" y1="416.20" x2="243.54" y2="420.50" stroke="#ff0000" stroke-width="1.2" stroke-dasharray="1.2 1.98"/>
<line x1="243.54" y1="406.90" x2="243.54" y2="393.10" stroke="#ff0000" stroke-width="1.2" stroke-dasharray="1.2 1.98"/>
<line x1="238.14" y1="393.10" x2="248.94" y2="393.10" stroke="#ff0000" stroke-width="1.85"/>
<line x1="238.14" y1="420.50" x2="248.94" y2="420.50" stroke="#ff0000" stroke-width="1.85"/>
<rect x="234.19" y="407.15" width="18.70" height="9.40" fill="#3e0096" stroke="#000" stroke-width="1.0"/>
<line x1="234.19" y1="412.40" x2="252.89" y2="412.40" stroke="#000" stroke-width="2.45" stroke-linecap="square"/>
<line x1="280.80" y1="416.20" x2="280.80" y2="420.50" stroke="#ff0000" stroke-width="1.2" stroke-dasharray="1.2 1.98"/>
<line x1="280.80" y1="408.50" x2="280.80" y2="396.00" stroke="#ff0000" stroke-width="1.2" stroke-dasharray="1.2 1.98"/>
<line x1="275.40" y1="396.00" x2="286.20" y2="396.00" stroke="#ff0000" stroke-width="1.85"/>
<line x1="275.40" y1="420.50" x2="286.20" y2="420.50" stroke="#ff0000" stroke-width="1.85"/>
<rect x="271.45" y="408.75" width="18.70" height="7.80" fill="#3e0096" stroke="#000" stroke-width="1.0"/>
<line x1="271.45" y1="412.40" x2="290.15" y2="412.40" stroke="#000" stroke-width="2.45" stroke-linecap="square"/>
<line x1="318.07" y1="415.60" x2="318.07" y2="420.50" stroke="#ff0000" stroke-width="1.2" stroke-dasharray="1.2 1.98"/>
<line x1="318.07" y1="406.80" x2="318.07" y2="393.70" stroke="#ff0000" stroke-width="1.2" stroke-dasharray="1.2 1.98"/>
<line x1="312.67" y1="393.70" x2="323.47" y2="393.70" stroke="#ff0000" stroke-width="1.85"/>
<line x1="312.67" y1="420.50" x2="323.47" y2="420.50" stroke="#ff0000" stroke-width="1.85"/>
<rect x="308.72" y="407.05" width="18.70" height="8.90" fill="#3e0096" stroke="#000" stroke-width="1.0"/>
<line x1="308.72" y1="411.90" x2="327.42" y2="411.90" stroke="#000" stroke-width="2.45" stroke-linecap="square"/>
<line x1="38.60" y1="321.45" x2="336.60" y2="321.45" stroke="#000" stroke-width="0.72"/>
<line x1="38.60" y1="421.45" x2="336.60" y2="421.45" stroke="#000" stroke-width="0.72"/>
<line x1="38.60" y1="321.09" x2="38.60" y2="421.81" stroke="#000" stroke-width="0.72"/>
<line x1="336.60" y1="321.09" x2="336.60" y2="421.81" stroke="#000" stroke-width="0.72"/>
<line x1="35.90" y1="421.45" x2="38.60" y2="421.45" stroke="#000" stroke-width="0.72"/>
<line x1="336.60" y1="421.45" x2="339.70" y2="421.45" stroke="#000" stroke-width="0.72"/>
<line x1="35.90" y1="401.45" x2="38.60" y2="401.45" stroke="#000" stroke-width="0.72"/>
<line x1="336.60" y1="401.45" x2="339.70" y2="401.45" stroke="#000" stroke-width="0.72"/>
<line x1="35.90" y1="381.45" x2="38.60" y2="381.45" stroke="#000" stroke-width="0.72"/>
<line x1="336.60" y1="381.45" x2="339.70" y2="381.45" stroke="#000" stroke-width="0.72"/>
<line x1="35.90" y1="361.45" x2="38.60" y2="361.45" stroke="#000" stroke-width="0.72"/>
<line x1="336.60" y1="361.45" x2="339.70" y2="361.45" stroke="#000" stroke-width="0.72"/>
<line x1="35.90" y1="341.45" x2="38.60" y2="341.45" stroke="#000" stroke-width="0.72"/>
<line x1="336.60" y1="341.45" x2="339.70" y2="341.45" stroke="#000" stroke-width="0.72"/>
<line x1="35.90" y1="321.45" x2="38.60" y2="321.45" stroke="#000" stroke-width="0.72"/>
<line x1="336.60" y1="321.45" x2="339.70" y2="321.45" stroke="#000" stroke-width="0.72"/>
<line x1="57.21" y1="421.45" x2="57.21" y2="423.95" stroke="#000" stroke-width="0.72"/>
<line x1="94.47" y1="421.45" x2="94.47" y2="423.95" stroke="#000" stroke-width="0.72"/>
<line x1="131.74" y1="421.45" x2="131.74" y2="423.95" stroke="#000" stroke-width="0.72"/>
<line x1="169.00" y1="421.45" x2="169.00" y2="423.95" stroke="#000" stroke-width="0.72"/>
<line x1="206.27" y1="421.45" x2="206.27" y2="423.95" stroke="#000" stroke-width="0.72"/>
<line x1="243.54" y1="421.45" x2="243.54" y2="423.95" stroke="#000" stroke-width="0.72"/>
<line x1="280.80" y1="421.45" x2="280.80" y2="423.95" stroke="#000" stroke-width="0.72"/>
<line x1="318.07" y1="421.45" x2="318.07" y2="423.95" stroke="#000" stroke-width="0.72"/>
<rect x="402.00" y="321.95" width="1.00" height="99.00" fill="#f4f4f4"/>
<rect x="439.00" y="321.95" width="1.00" height="99.00" fill="#f4f4f4"/>
<rect x="477.00" y="321.95" width="1.00" height="99.00" fill="#f4f4f4"/>
<rect x="514.00" y="321.95" width="1.00" height="99.00" fill="#f4f4f4"/>
<rect x="551.00" y="321.95" width="1.00" height="99.00" fill="#f4f4f4"/>
<rect x="588.00" y="321.95" width="1.00" height="99.00" fill="#f4f4f4"/>
<rect x="626.00" y="321.95" width="1.00" height="99.00" fill="#f4f4f4"/>
<rect x="663.00" y="321.95" width="1.00" height="99.00" fill="#f4f4f4"/>
<rect x="384.50" y="401.00" width="297.30" height="1.00" fill="#f4f4f4"/>
<rect x="384.50" y="381.00" width="297.30" height="1.00" fill="#f4f4f4"/>
<rect x="384.50" y="361.00" width="297.30" height="1.00" fill="#f4f4f4"/>
<rect x="384.50" y="341.00" width="297.30" height="1.00" fill="#f4f4f4"/>
<line x1="402.72" y1="413.90" x2="402.72" y2="420.30" stroke="#ff0000" stroke-width="1.2" stroke-dasharray="1.2 1.98"/>
<line x1="402.72" y1="397.20" x2="402.72" y2="372.90" stroke="#ff0000" stroke-width="1.2" stroke-dasharray="1.2 1.98"/>
<line x1="397.32" y1="372.90" x2="408.12" y2="372.90" stroke="#ff0000" stroke-width="1.85"/>
<line x1="397.32" y1="420.30" x2="408.12" y2="420.30" stroke="#ff0000" stroke-width="1.85"/>
<rect x="393.37" y="397.45" width="18.70" height="16.80" fill="#3e0096" stroke="#000" stroke-width="1.0"/>
<line x1="393.37" y1="406.20" x2="412.07" y2="406.20" stroke="#000" stroke-width="2.45" stroke-linecap="square"/>
<line x1="439.96" y1="414.30" x2="439.96" y2="420.30" stroke="#ff0000" stroke-width="1.2" stroke-dasharray="1.2 1.98"/>
<line x1="439.96" y1="397.20" x2="439.96" y2="372.00" stroke="#ff0000" stroke-width="1.2" stroke-dasharray="1.2 1.98"/>
<line x1="434.56" y1="372.00" x2="445.36" y2="372.00" stroke="#ff0000" stroke-width="1.85"/>
<line x1="434.56" y1="420.30" x2="445.36" y2="420.30" stroke="#ff0000" stroke-width="1.85"/>
<rect x="430.61" y="397.45" width="18.70" height="17.20" fill="#3e0096" stroke="#000" stroke-width="1.0"/>
<line x1="430.61" y1="407.10" x2="449.31" y2="407.10" stroke="#000" stroke-width="2.45" stroke-linecap="square"/>
<line x1="477.21" y1="408.10" x2="477.21" y2="420.30" stroke="#ff0000" stroke-width="1.2" stroke-dasharray="1.2 1.98"/>
<line x1="477.21" y1="379.50" x2="477.21" y2="343.80" stroke="#ff0000" stroke-width="1.2" stroke-dasharray="1.2 1.98"/>
<line x1="471.81" y1="343.80" x2="482.61" y2="343.80" stroke="#ff0000" stroke-width="1.85"/>
<line x1="471.81" y1="420.30" x2="482.61" y2="420.30" stroke="#ff0000" stroke-width="1.85"/>
<rect x="467.86" y="379.75" width="18.70" height="28.70" fill="#3e0096" stroke="#000" stroke-width="1.0"/>
<line x1="467.86" y1="394.10" x2="486.56" y2="394.10" stroke="#000" stroke-width="2.45" stroke-linecap="square"/>
<line x1="514.45" y1="409.10" x2="514.45" y2="420.30" stroke="#ff0000" stroke-width="1.2" stroke-dasharray="1.2 1.98"/>
<line x1="514.45" y1="384.80" x2="514.45" y2="357.60" stroke="#ff0000" stroke-width="1.2" stroke-dasharray="1.2 1.98"/>
<line x1="509.05" y1="357.60" x2="519.85" y2="357.60" stroke="#ff0000" stroke-width="1.85"/>
<line x1="509.05" y1="420.30" x2="519.85" y2="420.30" stroke="#ff0000" stroke-width="1.85"/>
<rect x="505.10" y="385.05" width="18.70" height="24.40" fill="#3e0096" stroke="#000" stroke-width="1.0"/>
<line x1="505.10" y1="397.40" x2="523.80" y2="397.40" stroke="#000" stroke-width="2.45" stroke-linecap="square"/>
<line x1="551.70" y1="409.30" x2="551.70" y2="420.30" stroke="#ff0000" stroke-width="1.2" stroke-dasharray="1.2 1.98"/>
<line x1="551.70" y1="392.20" x2="551.70" y2="370.60" stroke="#ff0000" stroke-width="1.2" stroke-dasharray="1.2 1.98"/>
<line x1="546.30" y1="370.60" x2="557.10" y2="370.60" stroke="#ff0000" stroke-width="1.85"/>
<line x1="546.30" y1="420.30" x2="557.10" y2="420.30" stroke="#ff0000" stroke-width="1.85"/>
<rect x="542.35" y="392.45" width="18.70" height="17.20" fill="#3e0096" stroke="#000" stroke-width="1.0"/>
<line x1="542.35" y1="402.50" x2="561.05" y2="402.50" stroke="#000" stroke-width="2.45" stroke-linecap="square"/>
<line x1="588.94" y1="406.20" x2="588.94" y2="420.30" stroke="#ff0000" stroke-width="1.2" stroke-dasharray="1.2 1.98"/>
<line x1="588.94" y1="388.50" x2="588.94" y2="362.40" stroke="#ff0000" stroke-width="1.2" stroke-dasharray="1.2 1.98"/>
<line x1="583.54" y1="362.40" x2="594.34" y2="362.40" stroke="#ff0000" stroke-width="1.85"/>
<line x1="583.54" y1="420.30" x2="594.34" y2="420.30" stroke="#ff0000" stroke-width="1.85"/>
<rect x="579.59" y="388.75" width="18.70" height="17.80" fill="#3e0096" stroke="#000" stroke-width="1.0"/>
<line x1="579.59" y1="397.60" x2="598.29" y2="397.60" stroke="#000" stroke-width="2.45" stroke-linecap="square"/>
<line x1="626.19" y1="406.30" x2="626.19" y2="419.90" stroke="#ff0000" stroke-width="1.2" stroke-dasharray="1.2 1.98"/>
<line x1="626.19" y1="391.20" x2="626.19" y2="373.90" stroke="#ff0000" stroke-width="1.2" stroke-dasharray="1.2 1.98"/>
<line x1="620.79" y1="373.90" x2="631.59" y2="373.90" stroke="#ff0000" stroke-width="1.85"/>
<line x1="620.79" y1="419.90" x2="631.59" y2="419.90" stroke="#ff0000" stroke-width="1.85"/>
<rect x="616.84" y="391.45" width="18.70" height="15.20" fill="#3e0096" stroke="#000" stroke-width="1.0"/>
<line x1="616.84" y1="399.10" x2="635.54" y2="399.10" stroke="#000" stroke-width="2.45" stroke-linecap="square"/>
<line x1="663.43" y1="410.80" x2="663.43" y2="420.30" stroke="#ff0000" stroke-width="1.2" stroke-dasharray="1.2 1.98"/>
<line x1="663.43" y1="396.40" x2="663.43" y2="374.30" stroke="#ff0000" stroke-width="1.2" stroke-dasharray="1.2 1.98"/>
<line x1="658.03" y1="374.30" x2="668.83" y2="374.30" stroke="#ff0000" stroke-width="1.85"/>
<line x1="658.03" y1="420.30" x2="668.83" y2="420.30" stroke="#ff0000" stroke-width="1.85"/>
<rect x="654.08" y="396.65" width="18.70" height="14.50" fill="#3e0096" stroke="#000" stroke-width="1.0"/>
<line x1="654.08" y1="404.20" x2="672.78" y2="404.20" stroke="#000" stroke-width="2.45" stroke-linecap="square"/>
<line x1="384.00" y1="321.45" x2="682.30" y2="321.45" stroke="#000" stroke-width="0.72"/>
<line x1="384.00" y1="421.45" x2="682.30" y2="421.45" stroke="#000" stroke-width="0.72"/>
<line x1="384.00" y1="321.09" x2="384.00" y2="421.81" stroke="#000" stroke-width="0.72"/>
<line x1="682.30" y1="321.09" x2="682.30" y2="421.81" stroke="#000" stroke-width="0.72"/>
<line x1="381.30" y1="421.45" x2="384.00" y2="421.45" stroke="#000" stroke-width="0.72"/>
<line x1="682.30" y1="421.45" x2="685.40" y2="421.45" stroke="#000" stroke-width="0.72"/>
<line x1="381.30" y1="401.45" x2="384.00" y2="401.45" stroke="#000" stroke-width="0.72"/>
<line x1="682.30" y1="401.45" x2="685.40" y2="401.45" stroke="#000" stroke-width="0.72"/>
<line x1="381.30" y1="381.45" x2="384.00" y2="381.45" stroke="#000" stroke-width="0.72"/>
<line x1="682.30" y1="381.45" x2="685.40" y2="381.45" stroke="#000" stroke-width="0.72"/>
<line x1="381.30" y1="361.45" x2="384.00" y2="361.45" stroke="#000" stroke-width="0.72"/>
<line x1="682.30" y1="361.45" x2="685.40" y2="361.45" stroke="#000" stroke-width="0.72"/>
<line x1="381.30" y1="341.45" x2="384.00" y2="341.45" stroke="#000" stroke-width="0.72"/>
<line x1="682.30" y1="341.45" x2="685.40" y2="341.45" stroke="#000" stroke-width="0.72"/>
<line x1="381.30" y1="321.45" x2="384.00" y2="321.45" stroke="#000" stroke-width="0.72"/>
<line x1="682.30" y1="321.45" x2="685.40" y2="321.45" stroke="#000" stroke-width="0.72"/>
<line x1="402.72" y1="421.45" x2="402.72" y2="423.95" stroke="#000" stroke-width="0.72"/>
<line x1="439.96" y1="421.45" x2="439.96" y2="423.95" stroke="#000" stroke-width="0.72"/>
<line x1="477.21" y1="421.45" x2="477.21" y2="423.95" stroke="#000" stroke-width="0.72"/>
<line x1="514.45" y1="421.45" x2="514.45" y2="423.95" stroke="#000" stroke-width="0.72"/>
<line x1="551.70" y1="421.45" x2="551.70" y2="423.95" stroke="#000" stroke-width="0.72"/>
<line x1="588.94" y1="421.45" x2="588.94" y2="423.95" stroke="#000" stroke-width="0.72"/>
<line x1="626.19" y1="421.45" x2="626.19" y2="423.95" stroke="#000" stroke-width="0.72"/>
<line x1="663.43" y1="421.45" x2="663.43" y2="423.95" stroke="#000" stroke-width="0.72"/>
<text x="50.51" y="131.00" font-size="9.90" font-weight="normal" textLength="5.54" lengthAdjust="spacingAndGlyphs" fill="#000">0</text>
<text x="50.51" y="273.30" font-size="9.90" font-weight="normal" textLength="5.54" lengthAdjust="spacingAndGlyphs" fill="#000">0</text>
<text x="79.67" y="131.00" font-size="9.90" font-weight="normal" textLength="5.72" lengthAdjust="spacingAndGlyphs" fill="#000">9</text>
<text x="79.67" y="273.30" font-size="9.90" font-weight="normal" textLength="5.72" lengthAdjust="spacingAndGlyphs" fill="#000">9</text>
<text x="105.93" y="131.00" font-size="9.90" font-weight="normal" textLength="11.40" lengthAdjust="spacingAndGlyphs" fill="#000">11</text>
<text x="105.93" y="273.30" font-size="9.90" font-weight="normal" textLength="11.40" lengthAdjust="spacingAndGlyphs" fill="#000">11</text>
<text x="135.14" y="131.00" font-size="9.90" font-weight="normal" textLength="11.48" lengthAdjust="spacingAndGlyphs" fill="#000">17</text>
<text x="135.14" y="273.30" font-size="9.90" font-weight="normal" textLength="11.48" lengthAdjust="spacingAndGlyphs" fill="#000">17</text>
<text x="164.66" y="131.00" font-size="9.90" font-weight="normal" textLength="11.32" lengthAdjust="spacingAndGlyphs" fill="#000">31</text>
<text x="164.66" y="273.30" font-size="9.90" font-weight="normal" textLength="11.32" lengthAdjust="spacingAndGlyphs" fill="#000">31</text>
<text x="193.81" y="131.00" font-size="9.90" font-weight="normal" textLength="11.58" lengthAdjust="spacingAndGlyphs" fill="#000">40</text>
<text x="193.81" y="273.30" font-size="9.90" font-weight="normal" textLength="11.58" lengthAdjust="spacingAndGlyphs" fill="#000">40</text>
<text x="223.12" y="131.00" font-size="9.90" font-weight="normal" textLength="11.30" lengthAdjust="spacingAndGlyphs" fill="#000">55</text>
<text x="223.12" y="273.30" font-size="9.90" font-weight="normal" textLength="11.30" lengthAdjust="spacingAndGlyphs" fill="#000">55</text>
<text x="252.24" y="131.00" font-size="9.90" font-weight="normal" textLength="11.52" lengthAdjust="spacingAndGlyphs" fill="#000">61</text>
<text x="252.24" y="273.30" font-size="9.90" font-weight="normal" textLength="11.52" lengthAdjust="spacingAndGlyphs" fill="#000">61</text>
<text x="281.37" y="131.00" font-size="9.90" font-weight="normal" textLength="11.56" lengthAdjust="spacingAndGlyphs" fill="#000">74</text>
<text x="281.37" y="273.30" font-size="9.90" font-weight="normal" textLength="11.56" lengthAdjust="spacingAndGlyphs" fill="#000">74</text>
<text x="310.80" y="131.00" font-size="9.90" font-weight="normal" textLength="11.46" lengthAdjust="spacingAndGlyphs" fill="#000">81</text>
<text x="310.80" y="273.30" font-size="9.90" font-weight="normal" textLength="11.46" lengthAdjust="spacingAndGlyphs" fill="#000">81</text>
<text x="339.86" y="131.00" font-size="9.90" font-weight="normal" textLength="11.71" lengthAdjust="spacingAndGlyphs" fill="#000">90</text>
<text x="339.86" y="273.30" font-size="9.90" font-weight="normal" textLength="11.71" lengthAdjust="spacingAndGlyphs" fill="#000">90</text>
<text x="369.20" y="131.00" font-size="9.90" font-weight="normal" textLength="11.64" lengthAdjust="spacingAndGlyphs" fill="#000">97</text>
<text x="369.20" y="273.30" font-size="9.90" font-weight="normal" textLength="11.64" lengthAdjust="spacingAndGlyphs" fill="#000">97</text>
<text x="395.21" y="131.00" font-size="9.90" font-weight="normal" textLength="17.58" lengthAdjust="spacingAndGlyphs" fill="#000">104</text>
<text x="395.21" y="273.30" font-size="9.90" font-weight="normal" textLength="17.58" lengthAdjust="spacingAndGlyphs" fill="#000">104</text>
<text x="424.51" y="131.00" font-size="9.90" font-weight="normal" textLength="17.59" lengthAdjust="spacingAndGlyphs" fill="#000">110</text>
<text x="424.51" y="273.30" font-size="9.90" font-weight="normal" textLength="17.59" lengthAdjust="spacingAndGlyphs" fill="#000">110</text>
<text x="453.86" y="131.00" font-size="9.90" font-weight="normal" textLength="17.41" lengthAdjust="spacingAndGlyphs" fill="#000">115</text>
<text x="453.86" y="273.30" font-size="9.90" font-weight="normal" textLength="17.41" lengthAdjust="spacingAndGlyphs" fill="#000">115</text>
<text x="482.98" y="131.00" font-size="9.90" font-weight="normal" textLength="17.68" lengthAdjust="spacingAndGlyphs" fill="#000">126</text>
<text x="482.98" y="273.30" font-size="9.90" font-weight="normal" textLength="17.68" lengthAdjust="spacingAndGlyphs" fill="#000">126</text>
<text x="512.25" y="131.00" font-size="9.90" font-weight="normal" textLength="17.59" lengthAdjust="spacingAndGlyphs" fill="#000">130</text>
<text x="512.25" y="273.30" font-size="9.90" font-weight="normal" textLength="17.59" lengthAdjust="spacingAndGlyphs" fill="#000">130</text>
<text x="541.61" y="131.00" font-size="9.90" font-weight="normal" textLength="17.41" lengthAdjust="spacingAndGlyphs" fill="#000">135</text>
<text x="541.61" y="273.30" font-size="9.90" font-weight="normal" textLength="17.41" lengthAdjust="spacingAndGlyphs" fill="#000">135</text>
<text x="570.92" y="131.00" font-size="9.90" font-weight="normal" textLength="17.37" lengthAdjust="spacingAndGlyphs" fill="#000">142</text>
<text x="570.92" y="273.30" font-size="9.90" font-weight="normal" textLength="17.37" lengthAdjust="spacingAndGlyphs" fill="#000">142</text>
<text x="600.16" y="131.00" font-size="9.90" font-weight="normal" textLength="17.37" lengthAdjust="spacingAndGlyphs" fill="#000">152</text>
<text x="600.16" y="273.30" font-size="9.90" font-weight="normal" textLength="17.37" lengthAdjust="spacingAndGlyphs" fill="#000">152</text>
<text x="629.31" y="131.00" font-size="9.90" font-weight="normal" textLength="17.50" lengthAdjust="spacingAndGlyphs" fill="#000">163</text>
<text x="629.31" y="273.30" font-size="9.90" font-weight="normal" textLength="17.50" lengthAdjust="spacingAndGlyphs" fill="#000">163</text>
<text x="658.44" y="131.00" font-size="9.90" font-weight="normal" textLength="17.58" lengthAdjust="spacingAndGlyphs" fill="#000">174</text>
<text x="658.44" y="273.30" font-size="9.90" font-weight="normal" textLength="17.58" lengthAdjust="spacingAndGlyphs" fill="#000">174</text>
<text x="27.25" y="122.00" font-size="9.90" font-weight="normal" textLength="5.54" lengthAdjust="spacingAndGlyphs" fill="#000">0</text>
<text x="27.25" y="425.00" font-size="9.90" font-weight="normal" textLength="5.54" lengthAdjust="spacingAndGlyphs" fill="#000">0</text>
<text x="372.85" y="425.00" font-size="9.90" font-weight="normal" textLength="5.54" lengthAdjust="spacingAndGlyphs" fill="#000">0</text>
<text x="21.17" y="102.00" font-size="9.90" font-weight="normal" textLength="11.64" lengthAdjust="spacingAndGlyphs" fill="#000">20</text>
<text x="21.17" y="405.00" font-size="9.90" font-weight="normal" textLength="11.64" lengthAdjust="spacingAndGlyphs" fill="#000">20</text>
<text x="366.77" y="405.00" font-size="9.90" font-weight="normal" textLength="11.64" lengthAdjust="spacingAndGlyphs" fill="#000">20</text>
<text x="21.23" y="82.00" font-size="9.90" font-weight="normal" textLength="11.58" lengthAdjust="spacingAndGlyphs" fill="#000">40</text>
<text x="21.23" y="385.00" font-size="9.90" font-weight="normal" textLength="11.58" lengthAdjust="spacingAndGlyphs" fill="#000">40</text>
<text x="366.83" y="385.00" font-size="9.90" font-weight="normal" textLength="11.58" lengthAdjust="spacingAndGlyphs" fill="#000">40</text>
<text x="21.13" y="62.00" font-size="9.90" font-weight="normal" textLength="11.68" lengthAdjust="spacingAndGlyphs" fill="#000">60</text>
<text x="21.13" y="365.00" font-size="9.90" font-weight="normal" textLength="11.68" lengthAdjust="spacingAndGlyphs" fill="#000">60</text>
<text x="366.73" y="365.00" font-size="9.90" font-weight="normal" textLength="11.68" lengthAdjust="spacingAndGlyphs" fill="#000">60</text>
<text x="21.19" y="42.00" font-size="9.90" font-weight="normal" textLength="11.62" lengthAdjust="spacingAndGlyphs" fill="#000">80</text>
<text x="21.19" y="345.00" font-size="9.90" font-weight="normal" textLength="11.62" lengthAdjust="spacingAndGlyphs" fill="#000">80</text>
<text x="366.79" y="345.00" font-size="9.90" font-weight="normal" textLength="11.62" lengthAdjust="spacingAndGlyphs" fill="#000">80</text>
<text x="15.23" y="22.00" font-size="9.90" font-weight="normal" textLength="17.59" lengthAdjust="spacingAndGlyphs" fill="#000">100</text>
<text x="15.23" y="325.00" font-size="9.90" font-weight="normal" textLength="17.59" lengthAdjust="spacingAndGlyphs" fill="#000">100</text>
<text x="360.83" y="325.00" font-size="9.90" font-weight="normal" textLength="17.59" lengthAdjust="spacingAndGlyphs" fill="#000">100</text>
<text x="27.25" y="264.00" font-size="9.90" font-weight="normal" textLength="5.54" lengthAdjust="spacingAndGlyphs" fill="#000">0</text>
<text x="27.57" y="230.00" font-size="9.90" font-weight="normal" textLength="5.23" lengthAdjust="spacingAndGlyphs" fill="#000">5</text>
<text x="21.25" y="197.00" font-size="9.90" font-weight="normal" textLength="11.56" lengthAdjust="spacingAndGlyphs" fill="#000">10</text>
<text x="21.46" y="164.00" font-size="9.90" font-weight="normal" textLength="11.37" lengthAdjust="spacingAndGlyphs" fill="#000">15</text>
<text x="49.89" y="434.90" font-size="9.90" font-weight="normal" textLength="14.69" lengthAdjust="spacingAndGlyphs" fill="#000">0.6</text>
<text x="87.19" y="434.90" font-size="9.90" font-weight="normal" textLength="14.65" lengthAdjust="spacingAndGlyphs" fill="#000">0.9</text>
<text x="124.43" y="434.90" font-size="9.90" font-weight="normal" textLength="14.35" lengthAdjust="spacingAndGlyphs" fill="#000">1.2</text>
<text x="161.63" y="434.90" font-size="9.90" font-weight="normal" textLength="14.39" lengthAdjust="spacingAndGlyphs" fill="#000">1.5</text>
<text x="198.95" y="434.90" font-size="9.90" font-weight="normal" textLength="14.69" lengthAdjust="spacingAndGlyphs" fill="#000">0.6</text>
<text x="236.25" y="434.90" font-size="9.90" font-weight="normal" textLength="14.65" lengthAdjust="spacingAndGlyphs" fill="#000">0.9</text>
<text x="273.49" y="434.90" font-size="9.90" font-weight="normal" textLength="14.35" lengthAdjust="spacingAndGlyphs" fill="#000">1.2</text>
<text x="310.70" y="434.90" font-size="9.90" font-weight="normal" textLength="14.39" lengthAdjust="spacingAndGlyphs" fill="#000">1.5</text>
<text x="395.40" y="434.90" font-size="9.90" font-weight="normal" textLength="14.69" lengthAdjust="spacingAndGlyphs" fill="#000">0.6</text>
<text x="432.68" y="434.90" font-size="9.90" font-weight="normal" textLength="14.65" lengthAdjust="spacingAndGlyphs" fill="#000">0.9</text>
<text x="469.90" y="434.90" font-size="9.90" font-weight="normal" textLength="14.35" lengthAdjust="spacingAndGlyphs" fill="#000">1.2</text>
<text x="507.08" y="434.90" font-size="9.90" font-weight="normal" textLength="14.39" lengthAdjust="spacingAndGlyphs" fill="#000">1.5</text>
<text x="544.38" y="434.90" font-size="9.90" font-weight="normal" textLength="14.69" lengthAdjust="spacingAndGlyphs" fill="#000">0.6</text>
<text x="581.66" y="434.90" font-size="9.90" font-weight="normal" textLength="14.65" lengthAdjust="spacingAndGlyphs" fill="#000">0.9</text>
<text x="618.88" y="434.90" font-size="9.90" font-weight="normal" textLength="14.35" lengthAdjust="spacingAndGlyphs" fill="#000">1.2</text>
<text x="656.06" y="434.90" font-size="9.90" font-weight="normal" textLength="14.39" lengthAdjust="spacingAndGlyphs" fill="#000">1.5</text>
<text x="241.59" y="13.90" font-size="16.74" font-weight="normal" textLength="237.72" lengthAdjust="spacingAndGlyphs" fill="#000">Train/prediction: dipole/dipole</text>
<text x="83.18" y="316.90" font-size="16.74" font-weight="normal" textLength="208.70" lengthAdjust="spacingAndGlyphs" fill="#000">Train/prediction: loop/loop</text>
<text x="421.84" y="316.90" font-size="16.74" font-weight="normal" textLength="223.17" lengthAdjust="spacingAndGlyphs" fill="#000">Train/prediction: dipole/loop</text>
<text x="127.80" y="448.80" font-size="12.61" font-weight="normal" textLength="120.47" lengthAdjust="spacingAndGlyphs" fill="#000">Applied stress (GPa)</text>
<text x="473.45" y="448.80" font-size="12.61" font-weight="normal" textLength="120.47" lengthAdjust="spacingAndGlyphs" fill="#000">Applied stress (GPa)</text>
<text x="304.87" y="290.9" font-size="12.61" textLength="37.56" lengthAdjust="spacingAndGlyphs">Angle(</text>
<text x="342.50" y="290.9" font-size="12.61" font-style="italic" textLength="7.90" lengthAdjust="spacingAndGlyphs">b</text>
<text x="352.40" y="290.9" font-size="12.61">,</text>
<text x="356.80" y="290.9" font-size="12.61" font-style="italic" textLength="6.90" lengthAdjust="spacingAndGlyphs">s</text>
<text x="364.32" y="290.9" font-size="12.61" textLength="51.30" lengthAdjust="spacingAndGlyphs">)/Degree</text>
<path d="M345.00 278.90H349.70" stroke="#000" stroke-width="0.75" fill="none"/>
<path d="M348.30 277.70L350.30 278.90L348.30 280.10" stroke="#000" stroke-width="0.75" fill="none"/>
<path d="M358.00 281.60H362.70" stroke="#000" stroke-width="0.75" fill="none"/>
<path d="M361.30 280.40L363.30 281.60L361.30 282.80" stroke="#000" stroke-width="0.75" fill="none"/>
<text x="0" y="0" font-size="12.56" textLength="124.28" lengthAdjust="spacingAndGlyphs" transform="translate(9.65 130.27) rotate(-90)">Percentage error (%)</text>
<text x="0" y="0" font-size="12.56" textLength="117.42" lengthAdjust="spacingAndGlyphs" transform="translate(15.80 268.45) rotate(-90)">Error (Angstrom/ps)</text>
<text x="0" y="0" font-size="12.56" textLength="124.28" lengthAdjust="spacingAndGlyphs" transform="translate(9.45 433.37) rotate(-90)">Percentage error (%)</text>
<text x="0" y="0" font-size="18.6" font-weight="bold" transform="translate(19.60 9.40) scale(1.11 1)">a</text>
<text x="0" y="0" font-size="18.6" font-weight="bold" transform="translate(19.80 151.20) scale(1.11 1)">b</text>
<text x="0" y="0" font-size="18.6" font-weight="bold" transform="translate(20.60 312.90) scale(1.11 1)">c</text>
<text x="0" y="0" font-size="18.6" font-weight="bold" transform="translate(366.20 313.00) scale(1.11 1)">d</text>
</svg>
</body></html>
